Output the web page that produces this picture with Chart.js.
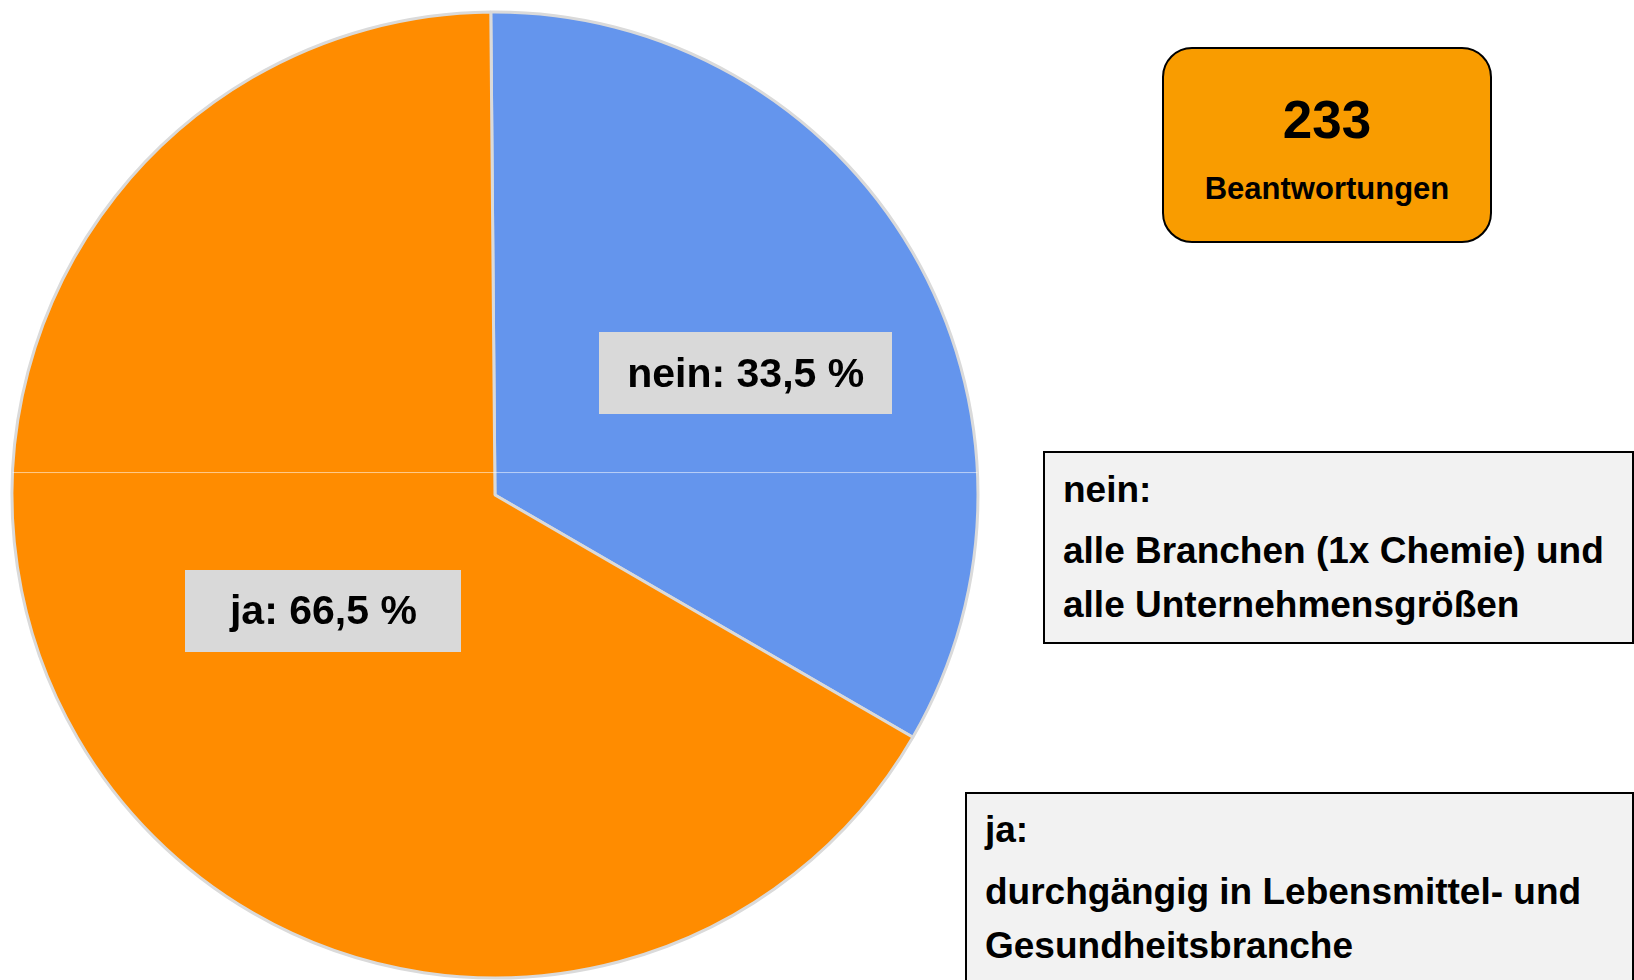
<!DOCTYPE html>
<html lang="de">
<head>
<meta charset="utf-8">
<title>ja / nein – 233 Beantwortungen</title>
<script src="https://cdn.jsdelivr.net/npm/chart.js@4.4.1/dist/chart.umd.min.js"></script>
<style>
  html, body { margin: 0; padding: 0; background: #fff; overflow: hidden; }
  body {
    width: 1634px; height: 980px; position: relative;
    font-family: "Liberation Sans", Arial, sans-serif; font-weight: bold; color: #000;
  }
  #pieWrap { position: absolute; left: 0; top: 0; width: 990px; height: 990px; }
  .count {
    position: absolute; left: 1162px; top: 47px; width: 330px; height: 196px;
    box-sizing: border-box; border: 2.5px solid #000; border-radius: 30px; background: #F99C00;
  }
  .count div { position: absolute; left: 0; width: 100%; text-align: center; white-space: nowrap; }
  .count .num { top: 41px; height: 60px; line-height: 60px; font-size: 53px; }
  .count .txt { top: 122px; height: 36px; line-height: 36px; font-size: 31px; }
  .note {
    position: absolute; box-sizing: border-box; border: 2px solid #000; background: #f2f2f2;
  }
  .note div {
    position: absolute; left: 18px; white-space: nowrap;
    height: 54px; line-height: 54px; font-size: 37px;
  }
</style>
</head>
<body>
<div id="pieWrap"><canvas id="pieChart" width="990" height="990"></canvas></div>

<div class="count">
  <div class="num" id="countNum"></div>
  <div class="txt">Beantwortungen</div>
</div>

<div class="note" style="left:1043px; top:451px; width:591px; height:193px;">
  <div style="top:10px;">nein:</div>
  <div style="top:71px;">alle Branchen (1x Chemie) und</div>
  <div style="top:125px;">alle Unternehmensgrößen</div>
</div>

<div class="note" style="left:965px; top:792px; width:669px; height:220px;">
  <div style="top:9px;">ja:</div>
  <div style="top:71px;">durchgängig in Lebensmittel- und</div>
  <div style="top:125px;">Gesundheitsbranche</div>
</div>

<script>
const labels = ['nein', 'ja'];
const shares = [33.5, 66.5];
const sliceColors = ['#6495ED', '#FF8C00'];
const responses = 233;

document.getElementById('countNum').textContent = responses;

// grey label boxes sitting inside each slice
const sliceLabelBoxes = {
  id: 'sliceLabelBoxes',
  afterDatasetsDraw(chart, args, opts) {
    const ctx = chart.ctx;
    const meta = chart.getDatasetMeta(0);

    // faint horizontal seam running through the pie
    const first = meta.data[0];
    const R = first.outerRadius;
    const seamY = first.y - R * opts.seamOffset;
    const half = Math.sqrt(R * R - (first.y - seamY) ** 2);
    ctx.save();
    ctx.strokeStyle = 'rgba(255,255,255,0.55)';
    ctx.lineWidth = 1;
    ctx.beginPath();
    ctx.moveTo(first.x - half, seamY + 0.5);
    ctx.lineTo(first.x + half, seamY + 0.5);
    ctx.stroke();
    ctx.restore();

    meta.data.forEach((arc, i) => {
      const mid = (arc.startAngle + arc.endAngle) / 2 + opts.angleShift[i] * Math.PI / 180;
      const r = arc.outerRadius * opts.radiusFactor[i];
      const cx = arc.x + Math.cos(mid) * r;
      const cy = arc.y + Math.sin(mid) * r;
      const text = labels[i] + ': ' + shares[i].toFixed(1).replace('.', ',') + ' %';
      const w = opts.boxWidth[i];
      const h = opts.boxHeight;
      ctx.save();
      ctx.fillStyle = '#d9d9d9';
      ctx.fillRect(Math.round(cx - w / 2), Math.round(cy - h / 2), w, h);
      ctx.font = 'bold 41px "Liberation Sans", Arial, sans-serif';
      ctx.fillStyle = '#000';
      ctx.textAlign = 'center';
      ctx.textBaseline = 'middle';
      ctx.fillText(text, cx, cy + 2);
      ctx.restore();
    });
  }
};

new Chart(document.getElementById('pieChart'), {
  type: 'pie',
  data: {
    labels: labels,
    datasets: [{
      data: shares,
      backgroundColor: sliceColors,
      borderColor: '#dadada',
      borderWidth: 3,
    }],
  },
  options: {
    responsive: false,
    animation: false,
    devicePixelRatio: 1,
    rotation: -0.5,
    radius: 483,
    layout: { padding: 0 },
    plugins: {
      legend: { display: false },
      tooltip: { enabled: false },
      sliceLabelBoxes: {
        radiusFactor: [0.577, 0.429],
        angleShift: [4.3, -3.9],
        boxWidth: [293, 276],
        boxHeight: 82,
        seamOffset: 0.0475,
      },
    },
  },
  plugins: [sliceLabelBoxes],
});
</script>
</body>
</html>
